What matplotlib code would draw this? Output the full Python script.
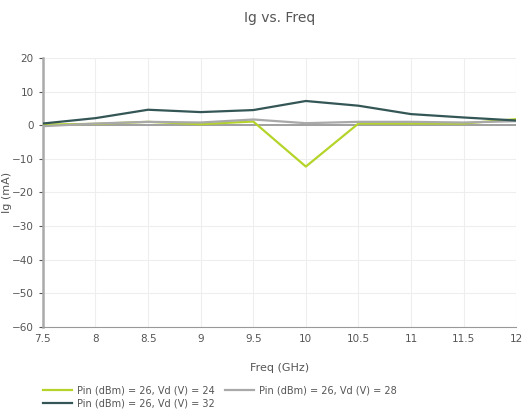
import matplotlib.pyplot as plt

freq = [7.5, 8, 8.5, 9, 9.5, 10, 10.5, 11, 11.5, 12]
ig_vd24 = [0.2, 0.4, 1.0, 0.3, 1.1, -12.3, 0.5, 0.5, 0.5, 1.8]
ig_vd28 = [-0.3, 0.5, 1.0, 0.8, 1.7, 0.6, 1.0, 1.0, 0.8, 1.2]
ig_vd32 = [0.5, 2.1, 4.6, 3.9, 4.5, 7.2, 5.8, 3.3, 2.3, 1.4]

labels = ["Pin (dBm) = 26, Vd (V) = 24",
          "Pin (dBm) = 26, Vd (V) = 28",
          "Pin (dBm) = 26, Vd (V) = 32"]
colors = ["#b4d42a", "#a9a9a9", "#355656"]

plt.rcParams['font.family'] = ['DejaVu Sans']
txt = "#555555"

fig = plt.figure(figsize=(5.23, 4.17), dpi=100)
ax = fig.add_axes([0.082, 0.216, 0.905, 0.645])

ax.axhline(0, color="#999999", lw=1.3, zorder=1)
lines = []
for y, lab, c in zip([ig_vd24, ig_vd28, ig_vd32], labels, colors):
    ln, = ax.plot(freq, y, color=c, lw=1.6, label=lab, zorder=3)
    lines.append(ln)

ax.set_xlim(7.5, 12)
ax.set_ylim(-60, 20)
ax.set_xticks(freq)
ax.set_xticklabels(["7.5", "8", "8.5", "9", "9.5", "10", "10.5", "11", "11.5", "12"])
ax.set_yticks(range(-60, 21, 10))
ax.grid(color="#eeeeee", lw=0.8)
ax.set_axisbelow(True)
for s in ["top", "right"]:
    ax.spines[s].set_visible(False)
ax.spines["bottom"].set_color("#999999")
ax.spines["left"].set_color("#aaaaaa")
ax.spines["left"].set_linewidth(1.8)
ax.tick_params(colors=txt, labelsize=7.5, length=3, width=0.8)
ax.tick_params(axis="x", length=0, pad=5)

ax.set_xlabel("Freq (GHz)", color=txt, fontsize=8, labelpad=14)
ax.set_ylabel("Ig (mA)", color=txt, fontsize=8)
ax.yaxis.set_label_coords(-0.065, 0.5)
fig.text(0.535, 0.957, "Ig vs. Freq", ha="center", va="center", color=txt, fontsize=10)

# legend fills column by column, so order gives 24 | 28 on top, 32 below
order = [lines[0], lines[2], lines[1]]
leg = fig.legend(handles=order, loc="upper left", bbox_to_anchor=(0.075, 0.085), ncol=2,
                 frameon=False, fontsize=7, handlelength=3.0, handletextpad=0.5,
                 columnspacing=1.0, labelspacing=0.3, borderaxespad=0)
for t in leg.get_texts():
    t.set_color(txt)

fig.savefig("out.png", dpi=100)
